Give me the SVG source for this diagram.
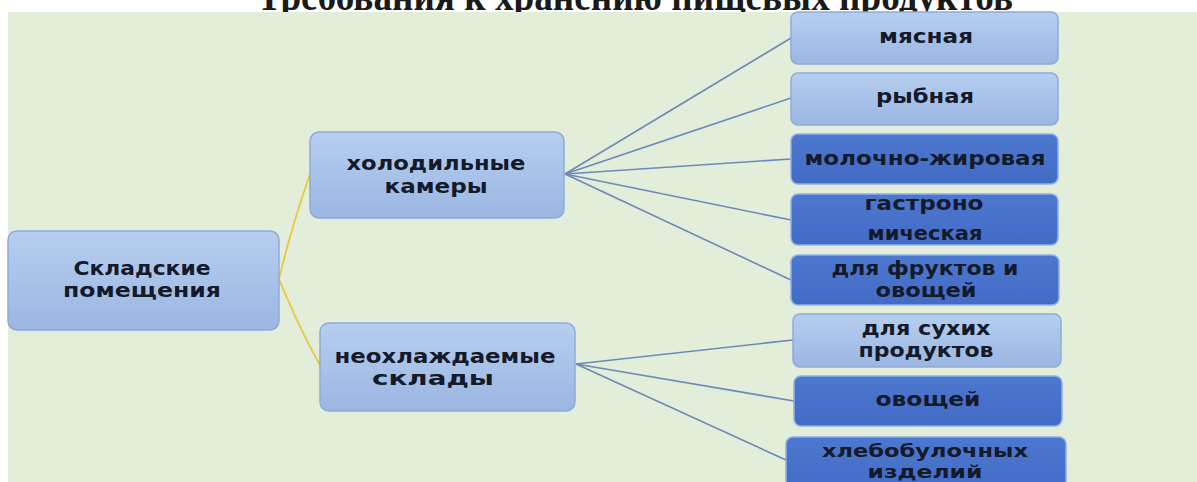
<svg xmlns="http://www.w3.org/2000/svg" width="1197" height="482" viewBox="0 0 1197 482">
  <defs>
    <linearGradient id="lightFill" x1="0" y1="0" x2="0" y2="1">
      <stop offset="0" stop-color="#b6ceef"/>
      <stop offset="1" stop-color="#9ab6e2"/>
    </linearGradient>
    <linearGradient id="darkFill" x1="0" y1="0" x2="0" y2="1">
      <stop offset="0" stop-color="#4d78cf"/>
      <stop offset="1" stop-color="#426bc5"/>
    </linearGradient>
    <style>
      .title { font-family: "Liberation Serif", "Times New Roman", serif; font-weight: bold; font-size: 42px; fill: #1a1a1a; }
      .light { fill: url(#lightFill); stroke: #8eaad8; stroke-width: 1.5; }
      .dark { fill: url(#darkFill); stroke: #8fb0ea; stroke-width: 1.5; }
      .label { font-family: "DejaVu Sans", Verdana, sans-serif; font-weight: bold; font-size: 20px; fill: #141a2a; text-anchor: middle; }
      .tight { font-size: 18px; }
      .branch { fill: none; stroke: #6f88b8; stroke-width: 1.6; }
      .trunk { fill: none; stroke: #e8c83c; stroke-width: 1.8; }
    </style>
  </defs>

  <rect x="0" y="0" width="1197" height="482" fill="#ffffff"/>
  <!-- heading, partly hidden above the top edge and under the panel -->
  <text class="title" x="257" y="10" textLength="756" lengthAdjust="spacingAndGlyphs">Требования к хранению пищевых продуктов</text>
  <rect x="8" y="12" width="1189" height="470" fill="#e2eed9"/>

  <g id="connectors">
    <path class="trunk" d="M279,279 Q292,225 310,174"/>
    <path class="trunk" d="M279,279 Q300,330 320,365"/>
    <path class="branch" d="M565,174 L791,38"/>
    <path class="branch" d="M565,174 L791,98"/>
    <path class="branch" d="M565,174 L791,159"/>
    <path class="branch" d="M565,174 L791,220"/>
    <path class="branch" d="M565,174 L791,280"/>
    <path class="branch" d="M576,364 L793,340"/>
    <path class="branch" d="M576,364 L794,401"/>
    <path class="branch" d="M576,364 L786,460"/>
  </g>

  <g id="node-storage">
    <rect class="light" x="8" y="231" width="271" height="99" rx="9"/>
    <text class="label" x="142" y="275" textLength="137" lengthAdjust="spacingAndGlyphs">Складские</text>
    <text class="label" x="142" y="297" textLength="158" lengthAdjust="spacingAndGlyphs">помещения</text>
  </g>

  <g id="node-cold">
    <rect class="light" x="310" y="132" width="254" height="86" rx="9"/>
    <text class="label" x="436" y="170" textLength="179" lengthAdjust="spacingAndGlyphs">холодильные</text>
    <text class="label" x="436" y="193" textLength="103" lengthAdjust="spacingAndGlyphs">камеры</text>
  </g>

  <g id="node-uncooled">
    <rect class="light" x="320" y="323" width="255" height="88" rx="9"/>
    <text class="label" x="445" y="363" textLength="221" lengthAdjust="spacingAndGlyphs">неохлаждаемые</text>
    <text class="label" x="433" y="385" textLength="122" lengthAdjust="spacingAndGlyphs">склады</text>
  </g>

  <g id="node-meat">
    <rect class="light" x="791" y="12" width="267" height="52" rx="7"/>
    <text class="label" x="926" y="43" textLength="94" lengthAdjust="spacingAndGlyphs">мясная</text>
  </g>

  <g id="node-fish">
    <rect class="light" x="791" y="73" width="267" height="52" rx="7"/>
    <text class="label" x="925" y="103" textLength="98" lengthAdjust="spacingAndGlyphs">рыбная</text>
  </g>

  <g id="node-dairy">
    <rect class="dark" x="791" y="134" width="267" height="50" rx="7"/>
    <text class="label" x="925" y="165" textLength="241" lengthAdjust="spacingAndGlyphs">молочно-жировая</text>
  </g>

  <g id="node-deli">
    <rect class="dark" x="791" y="194" width="267" height="51" rx="7"/>
    <text class="label" x="924" y="210" textLength="119" lengthAdjust="spacingAndGlyphs">гастроно</text>
    <text class="label" x="925" y="240" textLength="115" lengthAdjust="spacingAndGlyphs">мическая</text>
  </g>

  <g id="node-fruit">
    <rect class="dark" x="791" y="255" width="268" height="50" rx="7"/>
    <text class="label" x="925" y="275" textLength="187" lengthAdjust="spacingAndGlyphs">для фруктов и</text>
    <text class="label" x="926" y="297" textLength="101" lengthAdjust="spacingAndGlyphs">овощей</text>
  </g>

  <g id="node-dry">
    <rect class="light" x="793" y="314" width="268" height="53" rx="7"/>
    <text class="label" x="926" y="335" textLength="129" lengthAdjust="spacingAndGlyphs">для сухих</text>
    <text class="label" x="926" y="357" textLength="135" lengthAdjust="spacingAndGlyphs">продуктов</text>
  </g>

  <g id="node-veg">
    <rect class="dark" x="794" y="376" width="268" height="50" rx="7"/>
    <text class="label" x="928" y="406" textLength="105" lengthAdjust="spacingAndGlyphs">овощей</text>
  </g>

  <g id="node-bakery">
    <rect class="dark" x="786" y="437" width="280" height="56" rx="7"/>
    <text class="label tight" x="925" y="457" textLength="206" lengthAdjust="spacingAndGlyphs">хлебобулочных</text>
    <text class="label tight" x="925" y="478" textLength="115" lengthAdjust="spacingAndGlyphs">изделий</text>
  </g>
</svg>
